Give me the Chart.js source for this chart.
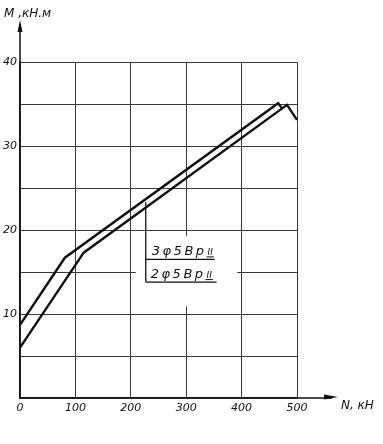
<!DOCTYPE html>
<html>
<head>
<meta charset="utf-8">
<script src="https://cdn.jsdelivr.net/npm/chart.js@4/dist/chart.umd.min.js"></script>
<style>
  html, body { margin: 0; padding: 0; background: #fff; }
  #wrap { width: 383px; height: 444px; }
</style>
</head>
<body>
<div id="wrap"><canvas id="chart" width="383" height="444"></canvas></div>
<script>
// N, kN (x) and M, kN*m (y)
const upperN = [0, 81, 466, 474];
const upperM = [8.7, 16.7, 35.1, 34.4];
const lowerN = [0, 115, 482, 500];
const lowerM = [6.0, 17.3, 34.9, 33.1];

const xTicks = [0, 100, 200, 300, 400, 500];
const yTicks = [10, 20, 30, 40];

const labelTop = '3φ5Вр';
const labelBottom = '2φ5Вр';
const rebarClass = 'II';

const ink = '#111';
const gridInk = '#3a3a3a';
const handFont = 'italic 12px "DejaVu Sans"';

function toPoints(xs, ys) {
    return xs.map((x, i) => ({ x: x, y: ys[i] }));
}

// arrows, axis names, blank patch behind the note and the note itself
const drawingExtras = {
    id: 'drawingExtras',
    beforeDatasetsDraw(chart) {
        const ctx = chart.ctx;
        const x = chart.scales.x, y = chart.scales.y;
        // the note sits on a blank patch of the grid
        ctx.save();
        ctx.fillStyle = '#fff';
        ctx.fillRect(x.getPixelForValue(209), y.getPixelForValue(19.3),
            x.getPixelForValue(392) - x.getPixelForValue(209),
            y.getPixelForValue(10.9) - y.getPixelForValue(19.3));
        ctx.restore();
    },
    afterDraw(chart) {
        const ctx = chart.ctx;
        const area = chart.chartArea;
        const x = chart.scales.x, y = chart.scales.y;
        ctx.save();
        ctx.strokeStyle = ink;
        ctx.fillStyle = ink;
        ctx.lineWidth = 1.5;

        // y axis arrow
        ctx.beginPath();
        ctx.moveTo(area.left, area.top);
        ctx.lineTo(area.left, 24);
        ctx.stroke();
        ctx.beginPath();
        ctx.moveTo(area.left, 20);
        ctx.lineTo(area.left - 2.5, 32);
        ctx.lineTo(area.left + 2.5, 32);
        ctx.closePath();
        ctx.fill();

        // x axis arrow
        ctx.beginPath();
        ctx.moveTo(area.right, area.bottom);
        ctx.lineTo(332, area.bottom);
        ctx.stroke();
        ctx.beginPath();
        ctx.moveTo(338, area.bottom - 1);
        ctx.lineTo(324, area.bottom - 3.5);
        ctx.lineTo(324, area.bottom + 1.5);
        ctx.closePath();
        ctx.fill();

        ctx.font = handFont;
        ctx.textBaseline = 'middle';
        ctx.textAlign = 'left';
        ctx.fillText('M ,кН.м', 4, 14);
        ctx.fillText('N, кН', 341, 406);

        // leader and underlines of the note
        const lx = x.getPixelForValue(227);
        const rx = x.getPixelForValue(355);
        const yMid = y.getPixelForValue(16.5);
        const yLow = y.getPixelForValue(13.8);
        ctx.lineWidth = 1.3;
        ctx.beginPath();
        ctx.moveTo(lx, y.getPixelForValue(23.3));
        ctx.lineTo(lx, yLow);
        ctx.moveTo(lx, yMid);
        ctx.lineTo(rx - 2, yMid);
        ctx.moveTo(lx, yLow);
        ctx.lineTo(rx, yLow);
        ctx.stroke();

        ctx.font = 'italic 13px "DejaVu Sans"';
        ctx.textBaseline = 'alphabetic';
        const notes = [[labelTop, yMid - 4, lx + 6], [labelBottom, yLow - 4, lx + 5]];
        notes.forEach(n => {
            let cx = n[2];
            for (const ch of n[0]) {
                ctx.fillText(ch, cx, n[1]);
                cx += ctx.measureText(ch).width + 2.5;
            }
            ctx.font = 'italic 9px "DejaVu Sans"';
            ctx.fillText(rebarClass, cx + 1, n[1]);
            const w = ctx.measureText(rebarClass).width;
            ctx.lineWidth = 1;
            ctx.beginPath();
            ctx.moveTo(cx, n[1] + 1.5);
            ctx.lineTo(cx + w + 2, n[1] + 1.5);
            ctx.stroke();
            ctx.font = 'italic 13px "DejaVu Sans"';
        });
        ctx.restore();
    }
};

new Chart(document.getElementById('chart'), {
    type: 'scatter',
    data: {
        datasets: [{
            label: labelTop + rebarClass,
            data: toPoints(upperN, upperM),
            showLine: true,
            borderColor: ink,
            borderWidth: 2.4,
            pointRadius: 0,
            fill: false,
            clip: false
        }, {
            label: labelBottom + rebarClass,
            data: toPoints(lowerN, lowerM),
            showLine: true,
            borderColor: ink,
            borderWidth: 2.4,
            pointRadius: 0,
            fill: false,
            clip: false
        }]
    },
    options: {
        responsive: false,
        animation: false,
        layout: { padding: { left: 0, right: 86, top: 62, bottom: 0 } },
        plugins: {
            legend: { display: false },
            tooltip: { enabled: false }
        },
        scales: {
            x: {
                type: 'linear',
                min: 0,
                max: 500,
                afterFit: scale => { scale.height = 46; },
                afterBuildTicks: scale => { scale.ticks = xTicks.map(v => ({ value: v })); },
                grid: { color: gridInk, lineWidth: 1, drawTicks: false },
                border: { color: ink, width: 1.5 },
                ticks: {
                    color: ink,
                    font: { family: 'DejaVu Sans', size: 11, style: 'italic' },
                    padding: 4,
                    maxRotation: 0
                }
            },
            y: {
                type: 'linear',
                min: 0,
                max: 40,
                afterFit: scale => { scale.width = 20; },
                ticks: {
                    stepSize: 5,
                    color: ink,
                    font: { family: 'DejaVu Sans', size: 11, style: 'italic' },
                    padding: 3,
                    callback: v => yTicks.includes(v) ? String(v) : ''
                },
                grid: { color: gridInk, lineWidth: 1, drawTicks: false },
                border: { color: ink, width: 1.5 }
            }
        }
    },
    plugins: [drawingExtras]
});
</script>
</body>
</html>
